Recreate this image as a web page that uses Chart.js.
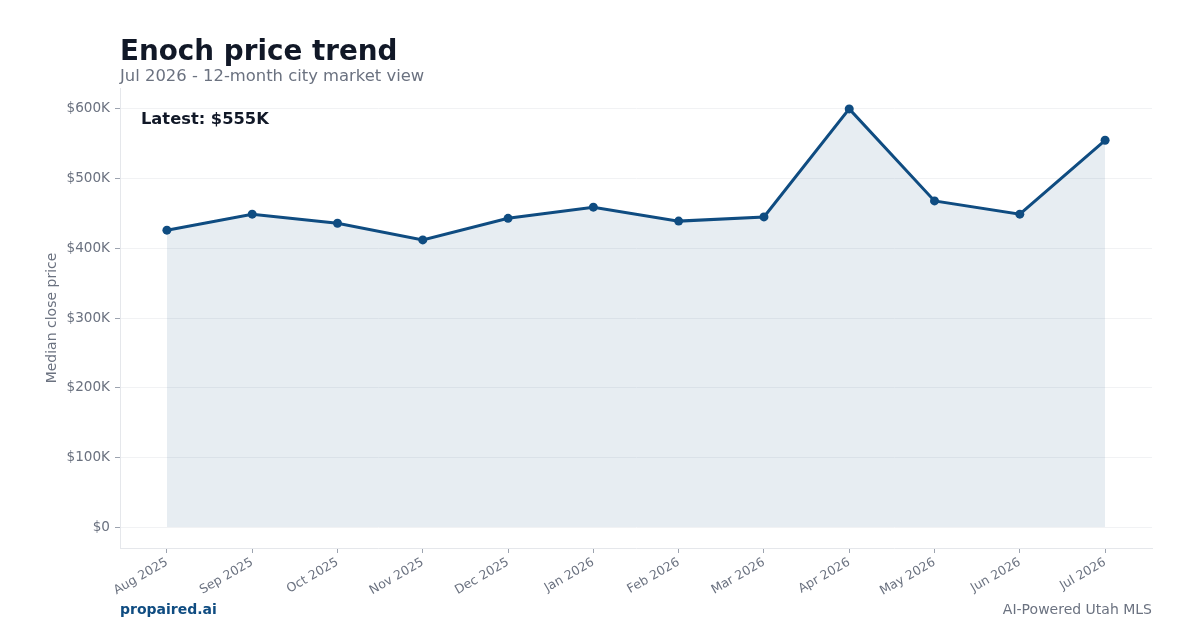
<!DOCTYPE html>
<html>
<head>
<meta charset="utf-8">
<script src="https://cdn.jsdelivr.net/npm/chart.js@4"></script>
<style>
  html, body { margin: 0; padding: 0; background: #fff; }
  body { width: 1200px; height: 630px; position: relative; overflow: hidden; font-family: "DejaVu Sans", sans-serif; }
  #chart { position: absolute; left: 0; top: 0; }
  .txt { position: absolute; white-space: nowrap; line-height: 1; }
  #title { left: 120px; top: 37px; font-size: 27.8px; font-weight: bold; color: #111827; }
  #subtitle { left: 120px; top: 68px; font-size: 16.4px; color: #6b7280; }
  #latest { left: 141px; top: 111px; font-size: 16.3px; font-weight: bold; color: #111827; }
  #brand { left: 120px; top: 602px; font-size: 14px; font-weight: bold; color: #0f4c81; }
  #tagline { right: 48px; top: 602px; font-size: 14px; color: #6b7280; }
</style>
</head>
<body>
<canvas id="chart" width="1200" height="630"></canvas>
<div class="txt" id="title">Enoch price trend</div>
<div class="txt" id="subtitle">Jul 2026 - 12-month city market view</div>
<div class="txt" id="latest">Latest: $555K</div>
<div class="txt" id="brand">propaired.ai</div>
<div class="txt" id="tagline">AI-Powered Utah MLS</div>
<script>
// Chart data
const months = ['Aug 2025', 'Sep 2025', 'Oct 2025', 'Nov 2025', 'Dec 2025', 'Jan 2026',
                'Feb 2026', 'Mar 2026', 'Apr 2026', 'May 2026', 'Jun 2026', 'Jul 2026'];
const medianPrice = [426000, 449000, 436000, 412000, 443000, 459000,
                     439000, 445000, 600000, 468000, 449000, 555000];
const yTicks = [0, 100000, 200000, 300000, 400000, 500000, 600000];

const lineColor = '#0f4c81';
const grayText = '#6b7280';
const axisColor = '#e5e7eb';

const ctx = document.getElementById('chart').getContext('2d');

new Chart(ctx, {
    type: 'line',
    data: {
        datasets: [{
            data: medianPrice.map((v, i) => ({ x: i, y: v })),
            borderColor: lineColor,
            backgroundColor: 'rgba(15, 76, 129, 0.1)',
            borderWidth: 3,
            fill: 'origin',
            tension: 0,
            pointRadius: 4.5,
            pointBackgroundColor: lineColor,
            pointBorderColor: lineColor,
            pointBorderWidth: 0
        }]
    },
    options: {
        responsive: false,
        animation: false,
        layout: {
            padding: { left: 0, top: 88, right: 48, bottom: 30 }
        },
        plugins: {
            legend: { display: false },
            tooltip: { enabled: false }
        },
        scales: {
            x: {
                type: 'linear',
                min: -0.55,
                max: 11.55,
                afterBuildTicks: scale => {
                    scale.ticks = months.map((m, i) => ({ value: i }));
                },
                afterFit: scale => { scale.height = 52; },
                border: { color: axisColor },
                grid: {
                    drawOnChartArea: false,
                    drawTicks: true,
                    tickLength: 5,
                    tickColor: '#9ca3af'
                },
                ticks: {
                    autoSkip: false,
                    maxRotation: 30,
                    minRotation: 30,
                    padding: 2,
                    color: grayText,
                    font: { family: 'DejaVu Sans', size: 12.5 },
                    callback: v => months[v]
                }
            },
            y: {
                min: -30000,
                max: 630000,
                afterBuildTicks: scale => {
                    scale.ticks = yTicks.map(v => ({ value: v }));
                },
                afterFit: scale => { scale.width = 120; },
                border: { color: axisColor },
                grid: {
                    color: '#f1f2f4',
                    tickColor: '#9ca3af',
                    tickLength: 5
                },
                ticks: {
                    padding: 5,
                    color: grayText,
                    font: { family: 'DejaVu Sans', size: 13.6 },
                    callback: v => v === 0 ? '$0' : '$' + (v / 1000) + 'K'
                },
                title: {
                    display: true,
                    text: 'Median close price',
                    color: grayText,
                    padding: { top: 44, bottom: 0 },
                    font: { family: 'DejaVu Sans', size: 14 }
                }
            }
        }
    }
});
</script>
</body>
</html>
